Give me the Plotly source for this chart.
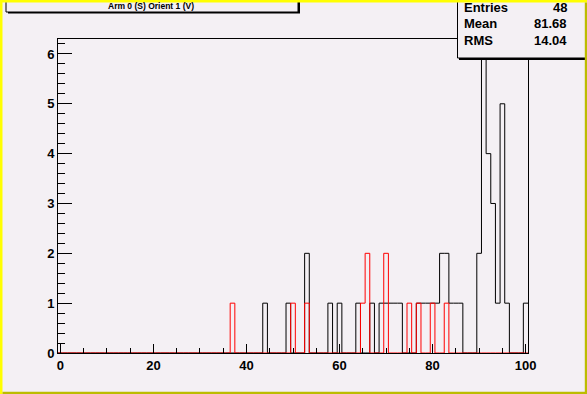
import numpy as np
import plotly.graph_objects as go

# ---------------- data ----------------
black_bins = [44, 49, 53, 58, 60, 64, 67, 69, 70, 71, 72, 73, 77, 78, 79, 80, 81,
              82, 83, 84, 85, 86, 90, 91, 92, 93, 94, 95, 96, 100]
black_counts = [1, 1, 2, 1, 1, 1, 1, 1, 1, 1, 1, 1, 1, 1, 1, 1, 1,
                2, 2, 1, 1, 1, 2, 6, 4, 3, 1, 5, 1, 1]
red_bins = [37, 50, 53, 65, 66, 70, 75, 77, 80, 83]
red_counts = [1, 1, 1, 1, 2, 2, 1, 1, 1, 1]

x_ticks = [0, 20, 40, 60, 80, 100]
y_ticks = [0, 1, 2, 3, 4, 5, 6]

title_text = "Arm 0 (S) Orient 1 (V)"
stat_names = ["Entries", "Mean", "RMS"]
stat_values = ["48", "81.68", "14.04"]

n_bins = 101
x_lo, x_hi = -0.5, 100.5
y_top = 6.3

# ---------------- geometry ----------------
W, H = 587, 394
L, R, T, B = 58, 528, 39, 353
BG = "#f4f0f4"


def px(x):
    return (x - L) / (R - L)


def py(y):
    return (B - y) / (B - T)


def step_arrays(bins, counts):
    c = np.zeros(n_bins)
    for b, v in zip(bins, counts):
        c[b] += v
    edges = np.linspace(x_lo, x_hi, n_bins + 1)
    ys = np.append(c, c[-1])
    return edges, ys


fig = go.Figure()
ex, ey = step_arrays(black_bins, black_counts)
fig.add_trace(go.Scatter(x=ex, y=ey, mode="lines", line_shape="hv",
                         line=dict(color="black", width=1), cliponaxis=False,
                         hoverinfo="skip", showlegend=False))
rx, ry = step_arrays(red_bins, red_counts)
fig.add_trace(go.Scatter(x=rx, y=ry, mode="lines", line_shape="hv",
                         line=dict(color="#ff0000", width=1), cliponaxis=False,
                         hoverinfo="skip", showlegend=False))

tickfont = dict(family="Liberation Sans", size=13, color="black", weight="bold")

fig.update_xaxes(range=[x_lo, x_hi], tickvals=x_ticks, ticktext=[str(v) for v in x_ticks],
                 ticks="inside", ticklen=9, tickwidth=1, tickcolor="black",
                 minor=dict(dtick=5, tick0=0, ticks="inside", ticklen=5, tickcolor="black", tickwidth=1),
                 showline=True, linecolor="black", linewidth=1, mirror=True,
                 showgrid=False, zeroline=False, tickfont=tickfont)
fig.update_yaxes(range=[0, y_top], tickvals=y_ticks, ticktext=[str(v) for v in y_ticks],
                 ticks="inside", ticklen=14, tickwidth=1, tickcolor="black",
                 minor=dict(dtick=0.2, tick0=0, ticks="inside", ticklen=7, tickcolor="black", tickwidth=1),
                 showline=True, linecolor="black", linewidth=1, mirror=True,
                 showgrid=False, zeroline=False, tickfont=tickfont)

shapes = []
# title pave shadow + box
shapes.append(dict(type="rect", xref="paper", yref="paper",
                   x0=px(8), x1=px(300), y0=py(13.5), y1=py(-3),
                   fillcolor="black", line=dict(width=0)))
shapes.append(dict(type="rect", xref="paper", yref="paper",
                   x0=px(6), x1=px(298), y0=py(12), y1=py(-3),
                   fillcolor=BG, line=dict(color="black", width=1)))
# stats pave shadow + box
shapes.append(dict(type="rect", xref="paper", yref="paper",
                   x0=px(459), x1=px(590), y0=py(60), y1=py(-3),
                   fillcolor="black", line=dict(width=0)))
shapes.append(dict(type="rect", xref="paper", yref="paper",
                   x0=px(457.5), x1=px(588), y0=py(58), y1=py(-3),
                   fillcolor=BG, line=dict(color="black", width=1)))
# canvas bevel border
YEL = "#ffff00"
OLV = "#bcbc00"
shapes.append(dict(type="rect", xref="paper", yref="paper",
                   x0=px(0), x1=px(W), y0=py(2.5), y1=py(-1), fillcolor=YEL, line=dict(width=0)))
shapes.append(dict(type="rect", xref="paper", yref="paper",
                   x0=px(-1), x1=px(2.5), y0=py(H), y1=py(0), fillcolor=YEL, line=dict(width=0)))
shapes.append(dict(type="rect", xref="paper", yref="paper",
                   x0=px(2.5), x1=px(W + 1), y0=py(H + 1), y1=py(391.7), fillcolor=OLV, line=dict(width=0)))
shapes.append(dict(type="rect", xref="paper", yref="paper",
                   x0=px(584.8), x1=px(W + 1), y0=py(H + 1), y1=py(2.5), fillcolor=OLV, line=dict(width=0)))

annotations = []
annotations.append(dict(xref="paper", yref="paper", x=px(151), y=py(6.5),
                        text="<b>" + title_text + "</b>", showarrow=False,
                        xanchor="center", yanchor="middle",
                        font=dict(family="Liberation Sans", size=8.5, color="black")))
stat_y = [7.5, 24, 40.5]
for name, val, yy in zip(stat_names, stat_values, stat_y):
    annotations.append(dict(xref="paper", yref="paper", x=px(462), y=py(yy),
                            text="<b>" + name + "</b>", showarrow=False,
                            xanchor="left", yanchor="middle",
                            font=dict(family="Liberation Sans", size=13, color="black")))
    annotations.append(dict(xref="paper", yref="paper", x=px(569), y=py(yy),
                            text="<b>" + val + "</b>", showarrow=False,
                            xanchor="right", yanchor="middle",
                            font=dict(family="Liberation Sans", size=13, color="black")))

fig.update_layout(width=W, height=H, margin=dict(l=L, r=W - R, t=T, b=H - B, pad=0),
                  paper_bgcolor=BG, plot_bgcolor=BG, shapes=shapes,
                  annotations=annotations, showlegend=False)

fig.write_html("out.html", config={"displayModeBar": False},
               post_script="document.body.style.margin='0px';document.body.style.padding='0px';")
